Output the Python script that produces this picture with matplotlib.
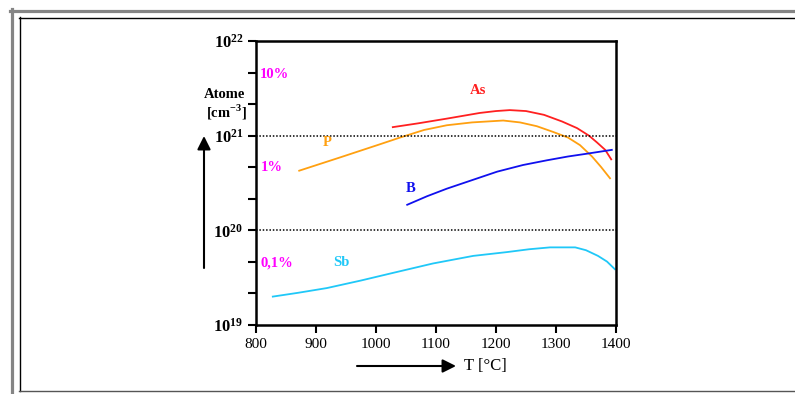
import matplotlib
matplotlib.use("Agg")
import matplotlib.pyplot as plt
from matplotlib.lines import Line2D
from matplotlib.ticker import FixedLocator, NullFormatter

plt.rcParams['font.family'] = ['Liberation Serif', 'DejaVu Serif']
plt.rcParams['mathtext.fontset'] = 'custom'
plt.rcParams['mathtext.rm'] = 'Liberation Serif'
plt.rcParams['mathtext.bf'] = 'Liberation Serif:bold'

# solubility curves (T in degC, log10 of atoms per cm^3)
as_T = [1028, 1070, 1118, 1173, 1200, 1223, 1250, 1280, 1310, 1335, 1355, 1368, 1382, 1392]
as_log = [21.09, 21.13, 21.18, 21.24, 21.26, 21.27, 21.26, 21.22, 21.15, 21.08, 21.00, 20.93, 20.85, 20.75]

p_T = [872, 940, 1007, 1040, 1080, 1118, 1160, 1212, 1240, 1268, 1295, 1320, 1340, 1360, 1375, 1390]
p_log = [20.63, 20.77, 20.91, 20.98, 21.06, 21.11, 21.14, 21.16, 21.14, 21.10, 21.04, 20.98, 20.90, 20.78, 20.67, 20.55]

b_T = [1052, 1085, 1118, 1160, 1202, 1245, 1285, 1320, 1352, 1393]
b_log = [20.27, 20.36, 20.44, 20.53, 20.62, 20.69, 20.74, 20.78, 20.81, 20.85]

sb_T = [828, 870, 918, 975, 1028, 1095, 1162, 1218, 1255, 1290, 1332, 1350, 1370, 1385, 1398]
sb_log = [19.30, 19.34, 19.39, 19.47, 19.55, 19.65, 19.73, 19.77, 19.80, 19.82, 19.82, 19.79, 19.73, 19.67, 19.59]

x_ticks = [800, 900, 1000, 1100, 1200, 1300, 1400]
y_major = [1e19, 1e20, 1e21, 1e22]
y_labels = [r'$\mathbf{10^{19}}$', r'$\mathbf{10^{20}}$', r'$\mathbf{10^{21}}$', r'$\mathbf{10^{22}}$']
y_minor = [10**19.333, 10**19.667, 10**20.333, 10**20.667, 10**21.333, 10**21.667]

W, H = 795, 394
fig = plt.figure(figsize=(W / 100, H / 100), dpi=100)
fig.patch.set_facecolor('white')

def fx(px):
    return px / W

def fy(py):
    return 1 - py / H

def pw(vals):
    return [10**v for v in vals]

# outer frame
fig.add_artist(Line2D([fx(11.5), fx(11.5)], [fy(9), fy(394)], color='#858585', lw=2.3))
fig.add_artist(Line2D([fx(10), fx(795)], [fy(10.5), fy(10.5)], color='#858585', lw=2.3))
fig.add_artist(Line2D([fx(19.5), fx(19.5)], [fy(17), fy(391)], color='black', lw=1.0))
fig.add_artist(Line2D([fx(19), fx(795)], [fy(17.5), fy(17.5)], color='black', lw=1.0))
fig.add_artist(Line2D([fx(19), fx(795)], [fy(391), fy(391)], color='#555555', lw=1.0))

ax = fig.add_axes([fx(256), fy(325), fx(616) - fx(256), fy(41) - fy(325)])
ax.set_yscale('log')
ax.set_xlim(800, 1400)
ax.set_ylim(1e19, 1e22)

ax.plot(as_T, pw(as_log), color='#ff2020', lw=1.3)
ax.plot(p_T, pw(p_log), color='#ffa010', lw=1.3)
ax.plot(b_T, pw(b_log), color='#1010ee', lw=1.3)
ax.plot(sb_T, pw(sb_log), color='#20c8f8', lw=1.3)

ax.axhline(1e21, color='black', ls=(0, (1, 1.2)), lw=1.1)
ax.axhline(1e20, color='black', ls=(0, (1, 1.2)), lw=1.1)

for s in ax.spines.values():
    s.set_linewidth(1.8)

ax.set_xticks(x_ticks)
ax.set_xticklabels([str(t) for t in x_ticks], fontsize=11)
ax.yaxis.set_major_locator(FixedLocator(y_major))
ax.set_yticklabels(y_labels, fontsize=12)
ax.yaxis.set_minor_locator(FixedLocator(y_minor))
ax.yaxis.set_minor_formatter(NullFormatter())
ax.tick_params(axis='both', which='both', direction='out', width=1.5, length=6)
ax.tick_params(axis='x', pad=3)
ax.tick_params(axis='y', pad=3)

bold = dict(fontweight='bold', fontsize=10.5, ha='center', va='center')
ax.text(1170, 10**21.48, 'As', color='#ff2020', **bold)
ax.text(918, 10**20.93, 'P', color='#ffa010', **bold)
ax.text(1057, 10**20.44, 'B', color='#1010ee', **bold)
ax.text(943, 10**19.66, 'Sb', color='#20c8f8', **bold)
ax.text(831, 10**21.65, '10%', color='#ff00ff', **bold)
ax.text(826, 10**20.66, '1%', color='#ff00ff', **bold)
ax.text(835, 10**19.66, '0,1%', color='#ff00ff', **bold)

# axis labels and arrows
fig.text(fx(225), fy(95), 'Atome', fontsize=10.5, fontweight='bold', ha='center', va='center')
fig.text(fx(226), fy(112), r'[cm$^{\mathbf{-3}}$]', fontsize=10.5, fontweight='bold', ha='center', va='center')
fig.text(fx(485), fy(366), 'T [°C]', fontsize=12, ha='center', va='center')
fig.add_artist(plt.Annotation('', xy=(fx(204), fy(136)), xytext=(fx(204), fy(268)),
                              xycoords='figure fraction', textcoords='figure fraction',
                              arrowprops=dict(arrowstyle='-|>', color='black', lw=1.5,
                                              mutation_scale=20, shrinkA=0, shrinkB=0)))
fig.add_artist(plt.Annotation('', xy=(fx(456), fy(366)), xytext=(fx(357), fy(366)),
                              xycoords='figure fraction', textcoords='figure fraction',
                              arrowprops=dict(arrowstyle='-|>', color='black', lw=1.5,
                                              mutation_scale=20, shrinkA=0, shrinkB=0)))

fig.savefig('out.png', dpi=100)
